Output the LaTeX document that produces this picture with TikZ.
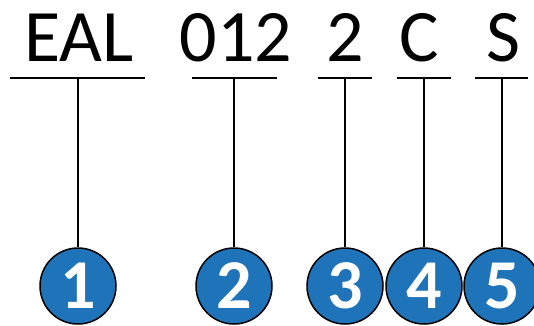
\documentclass[tikz,border=0pt]{standalone}
\usepackage{fontspec}
\setmainfont{Carlito}
\definecolor{badgeblue}{RGB}{31,115,185}
\begin{document}
\begin{tikzpicture}[
  x=1pt, y=-1pt,
  part/.style={anchor=base, inner sep=0pt, font=\fontsize{74}{74}\selectfont},
  badge/.style={circle, draw=black, line width=1.5pt, fill=badgeblue, text=white, minimum size=76pt, inner sep=0pt, font=\bfseries\fontsize{70}{70}\selectfont},
  bar/.style={line width=2pt},
  stem/.style={line width=1.4pt}
]
\useasboundingbox (0,0) rectangle (534,325);

% code parts
\node[part] (eal) at (79,61) {EAL};
\node[part] (num) at (236,61) {012};
\node[part] (rev) at (345,61) {2};
\node[part] (cls) at (419,61) {C};
\node[part] (suf) at (503,61) {S};

% underline ends and stem tops
\coordinate (ealL) at (10,78);  \coordinate (ealR) at (145,78); \coordinate (ealM) at (78,78);
\coordinate (numL) at (192,78); \coordinate (numR) at (277,78); \coordinate (numM) at (234,78);
\coordinate (revL) at (318,78); \coordinate (revR) at (372,78); \coordinate (revM) at (345,78);
\coordinate (clsL) at (397,78); \coordinate (clsR) at (451,78); \coordinate (clsM) at (424,78);
\coordinate (sufL) at (475,78); \coordinate (sufR) at (528,78); \coordinate (sufM) at (502,78);

% numbered badges
\node[badge] (one)   at (78,286)  {1};
\node[badge] (two)   at (234,286) {2};
\node[badge] (three) at (345,286) {3};
\node[badge] (four)  at (424,286) {4};
\node[badge] (five)  at (502,286) {5};

\draw[bar] (ealL) -- (ealR);
\draw[bar] (numL) -- (numR);
\draw[bar] (revL) -- (revR);
\draw[bar] (clsL) -- (clsR);
\draw[bar] (sufL) -- (sufR);

\draw[stem] (ealM) -- (one.north);
\draw[stem] (numM) -- (two.north);
\draw[stem] (revM) -- (three.north);
\draw[stem] (clsM) -- (four.north);
\draw[stem] (sufM) -- (five.north);
\end{tikzpicture}
\end{document}
